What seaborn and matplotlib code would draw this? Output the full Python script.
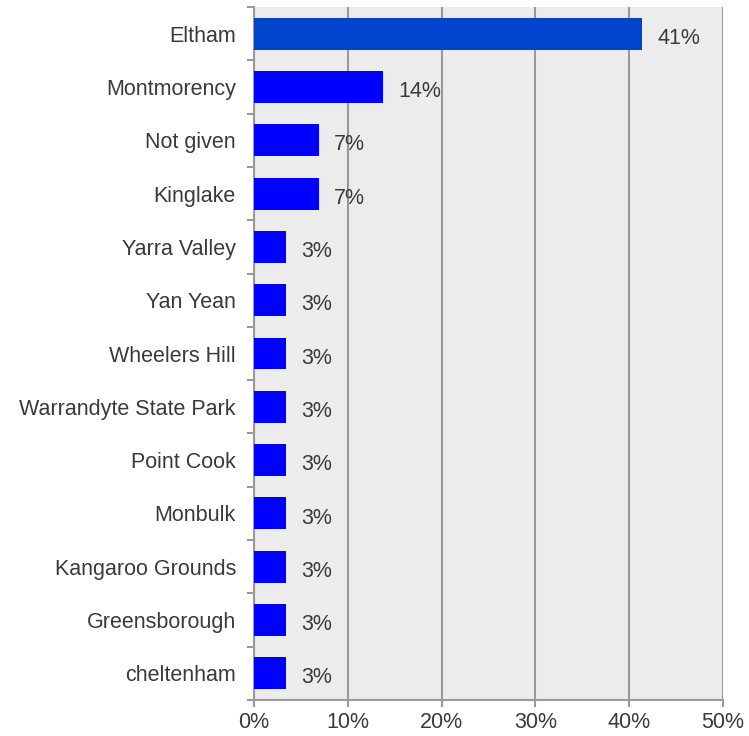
import matplotlib
matplotlib.use("Agg")
import matplotlib.pyplot as plt
import seaborn as sns
import pandas as pd
import numpy as np
from matplotlib.ticker import FixedLocator, PercentFormatter

categories = ["Eltham", "Montmorency", "Not given", "Kinglake", "Yarra Valley", "Yan Yean",
              "Wheelers Hill", "Warrandyte State Park", "Point Cook", "Monbulk",
              "Kangaroo Grounds", "Greensborough", "cheltenham"]
values = [41.4, 13.8, 6.9, 6.9, 3.45, 3.45, 3.45, 3.45, 3.45, 3.45, 3.45, 3.45, 3.45]
labels = ["41%", "14%", "7%", "7%", "3%", "3%", "3%", "3%", "3%", "3%", "3%", "3%", "3%"]
xticks = [0, 10, 20, 30, 40, 50]

sns.set_style("white")
plt.rcParams["font.family"] = ["Liberation Sans", "DejaVu Sans"]

df = pd.DataFrame({"place": categories, "pct": values})
colors = ["#0044cc"] + ["#0000ff"] * (len(categories) - 1)

fig = plt.figure(figsize=(7.49, 7.36), dpi=100)
ax = fig.add_axes([254/749, 1 - 700/736, (723-254)/749, (700-7)/736])
ax.set_facecolor("#ececec")

sns.barplot(data=df, y="place", x="pct", hue="place", palette=colors, legend=False,
            orient="h", width=0.6, ax=ax, saturation=1, linewidth=0, zorder=3)

ax.set_xlim(0, 50)
ax.set_ylim(len(categories) - 0.5, -0.5)
ax.xaxis.set_major_locator(FixedLocator(xticks))
ax.xaxis.set_major_formatter(PercentFormatter(decimals=0))
ax.grid(axis="x", color="#999999", linewidth=1.5, zorder=1)
ax.set_axisbelow(True)
ax.set_xlabel("")
ax.set_ylabel("")

ax.spines["top"].set_visible(False)
ax.spines["right"].set_visible(False)
for s in ["left", "bottom"]:
    ax.spines[s].set_color("#999999")
    ax.spines[s].set_linewidth(1.5)

fs = 15.5
tc = "#3a3a3a"
ax.tick_params(axis="x", bottom=True, length=5, width=1.5, color="#999999", labelsize=fs,
               labelcolor=tc, pad=4)
ax.tick_params(axis="y", which="major", left=True, length=0, labelsize=fs,
               labelcolor=tc, pad=13)
ax.yaxis.set_minor_locator(FixedLocator(np.arange(-0.5, len(categories), 1.0)))
ax.tick_params(axis="y", which="minor", left=True, length=5, width=1.5, color="#999999")

for i, (v, lab) in enumerate(zip(values, labels)):
    ax.text(v + 1.6, i + 0.04, lab, va="center_baseline", ha="left", fontsize=fs, color=tc)

fig.savefig("out.png", dpi=100)
